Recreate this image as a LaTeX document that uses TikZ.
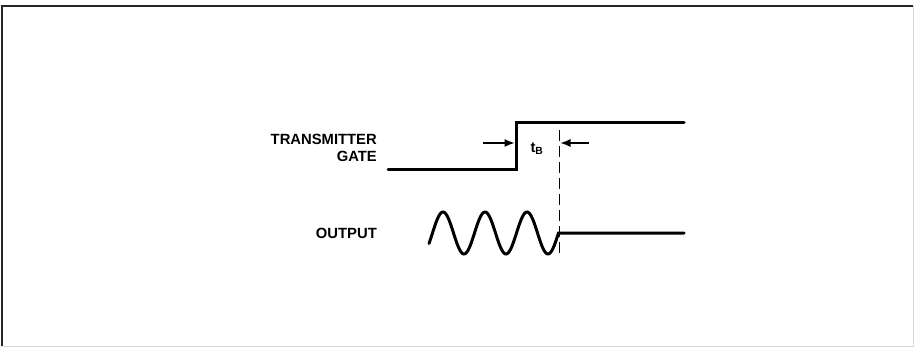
\documentclass[tikz,border=0pt]{standalone}
\usepackage{fontspec}
\setmainfont{Liberation Sans}
\usepackage{tikz}
\usetikzlibrary{arrows.meta,positioning}

\tikzset{
  sig/.style={line width=3pt, line cap=round, line join=miter},
  lbl/.style={font=\bfseries\fontsize{14.8}{17}\selectfont, inner sep=0pt, align=right},
  dim/.style={line width=1.2pt, -{Latex[length=10pt,width=8pt]}}
}

\begin{document}
\begin{tikzpicture}[x=1pt,y=-1pt]

\useasboundingbox (0,0) rectangle (915,348);
\draw [line width=2.2pt, black!85] (2,346) -- (2,6) -- (913,6);
\draw [line width=0.6pt, black!15] (913,6) -- (913,346) -- (2,346);

% transmitter gate
\coordinate (g0) at (388,169);
\coordinate (g1) at (516,169);
\coordinate (g2) at (516,122);
\coordinate (g3) at (684,122);
\draw [sig] (g0) -- (g1) -- (g2) -- (g3);

% output
\coordinate (o0) at (558.5,233);
\coordinate (o1) at (684,233);
\draw [sig] plot [domain=429:558.5, samples=120, smooth]
  (\x, {233-21*sin((\x-432.5)*8.5714)}) -- (o1);

% dashed marker
\coordinate (d0) at (559,130);
\coordinate (d1) at (559,257);
\draw [line width=1pt, dash pattern=on 11pt off 5pt] (d0) -- (d1);

% tB arrows
\coordinate (a0) at (483,143);
\coordinate (a1) at (514.5,143);
\coordinate (b0) at (589,143);
\coordinate (b1) at (560.5,143);
\draw [dim] (a0) -- (a1);
\draw [dim] (b0) -- (b1);
\node (tb) [lbl, anchor=base] at (537,152) {t\textsubscript{B}};

% labels
\node (gate) [lbl, anchor=north east] at (377,133.5) {TRANSMITTER\\GATE};
\node (out) [lbl, anchor=base east] at (377,238) {OUTPUT};

\end{tikzpicture}
\end{document}
